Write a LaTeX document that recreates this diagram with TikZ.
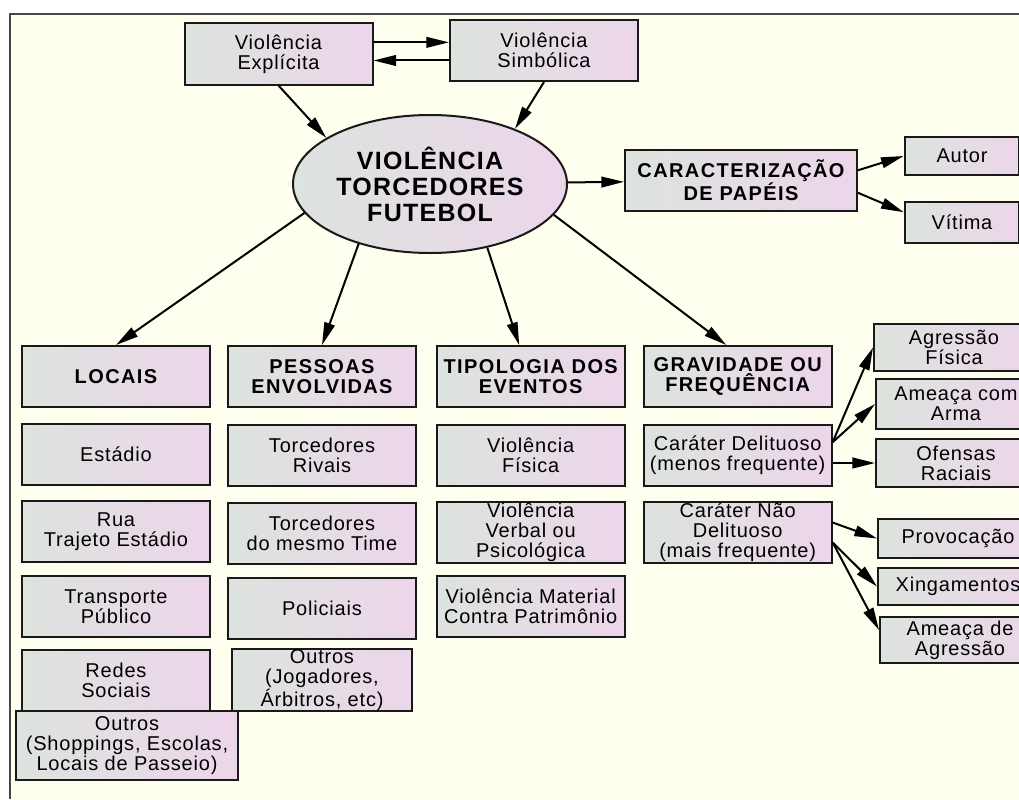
\documentclass[tikz,border=0pt]{standalone}
\usepackage{fontspec}
\setmainfont{Liberation Sans}
\newfontfamily\boxfont[LetterSpace=4]{Liberation Sans}
\newfontfamily\headfont[LetterSpace=7]{Liberation Sans}
\newfontfamily\centerfont[LetterSpace=5]{Liberation Sans}
\usepackage{tikz}
\usetikzlibrary{arrows.meta}
\usetikzlibrary{positioning}
\usetikzlibrary{shapes.geometric}

\definecolor{boxleft}{RGB}{221,227,222}
\definecolor{boxright}{RGB}{236,214,234}
\definecolor{paper}{RGB}{254,255,238}
\definecolor{framegray}{RGB}{70,70,70}

\begin{document}
\begin{tikzpicture}[x=0.75pt,y=-0.75pt,>={Triangle[length=17pt,width=8pt]},
  line width=1.5pt,
  box node/.style={rectangle,draw=black!90,left color=boxleft,right color=boxright,
    align=center,inner sep=0pt,minimum width=141pt,minimum height=45.75pt,
    font=\boxfont\fontsize{15}{15}\selectfont},
  head node/.style={box node,font=\headfont\bfseries\fontsize{15}{15.5}\selectfont},
  small node/.style={box node,minimum width=120pt},
  main node/.style={ellipse,draw=black!90,left color=boxleft,right color=boxright,
    align=center,inner sep=0pt,minimum width=205.5pt,minimum height=103.5pt,
    font=\centerfont\bfseries\fontsize{18.75}{19.5}\selectfont}]

  \useasboundingbox (0,0) rectangle (1019,799);
  \clip (0,0) rectangle (1019,799);
  \fill[white] (0,0) rectangle (1019,799);
  \fill[paper] (10,14) rectangle (1019,799);
  \draw[framegray,line width=1.3pt] (10,799) -- (10,14) -- (1019,14);

  % centre and top
  \node[main node] (vtf) at (430,184) {VIOLÊNCIA\\TORCEDORES\\FUTEBOL};
  \node[box node] (vexp) at (278.5,54) {Violência\\Explícita};
  \node[box node] (vsim) at (544,50.5) {Violência\\Simbólica};
  \node[head node,minimum width=174pt] (carac) at (741,180.5) {CARACTERIZAÇÃO\\DE PAPÉIS};
  \node[box node,minimum width=86pt,minimum height=28.5pt] (autor) at (962,156) {Autor};
  \node[box node,minimum width=86pt,minimum height=30.75pt] (vitima) at (962,222.5) {Vítima};

  % headers
  \node[head node] (locais) at (116,376.5) {LOCAIS};
  \node[head node] (pessoas) [right=12pt of locais] {PESSOAS\\ENVOLVIDAS};
  \node[head node] (tipol) [right=14pt of pessoas] {TIPOLOGIA DOS\\EVENTOS};
  \node[head node] (grav) [right=12.75pt of tipol] {GRAVIDADE OU\\FREQUÊNCIA};

  % locais
  \node[box node] (estadio) [below=11.25pt of locais] {Estádio};
  \node[box node] (rua) [below=10.5pt of estadio] {Rua\\Trajeto Estádio};
  \node[box node] (transp) [below=9pt of rua] {Transporte\\Público};
  \node[box node] (redes) [below=8.25pt of transp] {Redes\\Sociais};
  \node[box node,minimum width=166.5pt,minimum height=51.75pt] (outloc) at (127,745.5)
    {Outros\\(Shoppings, Escolas,\\Locais de Passeio)};

  % pessoas
  \node[box node] (torriv) [below=12pt of pessoas] {Torcedores\\Rivais};
  \node[box node] (tormes) [below=11.25pt of torriv] {Torcedores\\do mesmo Time};
  \node[box node] (polic) [below=9pt of tormes] {Policiais};
  \node[box node,minimum width=135pt,minimum height=46.5pt] (outpes) [below=6pt of polic]
    {Outros\\(Jogadores,\\Árbitros, etc)};

  % tipologia
  \node[box node] (vfis) [below=12pt of tipol] {Violência\\Física};
  \node[box node] (vverb) [below=10.5pt of vfis] {Violência\\Verbal ou\\Psicológica};
  \node[box node] (vmat) [below=8.25pt of vverb] {Violência Material\\Contra Patrimônio};

  % gravidade
  \node[box node] (cdel) [below=12pt of grav] {Caráter Delituoso\\(menos frequente)};
  \node[box node] (cndel) [below=10.5pt of cdel] {Caráter Não\\Delituoso\\(mais frequente)};

  \node[small node,minimum height=35.25pt,anchor=west] (agr) at (873,347.5) {Agressão\\Física};
  \node[small node,minimum height=37.5pt,anchor=west] (amc) at (875,404) {Ameaça com\\Arma};
  \node[small node,minimum height=36pt,anchor=west] (ofe) at (875,463) {Ofensas\\Raciais};
  \node[small node,minimum height=29.25pt,anchor=west] (pro) at (877,538.5) {Provocação};
  \node[small node,minimum height=27.75pt,anchor=west] (xin) at (877,586.5) {Xingamentos};
  \node[small node,minimum height=34.5pt,anchor=west] (amd) at (879,640) {Ameaça de\\Agressão};

  \path[->]
    (vexp.7) edge (vexp.7 -| vsim.west)
    (vsim.186) edge (vsim.186 -| vexp.east)
    (vexp.south) edge (vtf.156)
    (vsim.south) edge (vtf.33)
    (vtf) edge (carac)
    (carac.5) edge (autor.west)
    (carac.-6) edge (vitima.170)
    (vtf.193) edge (locais.north)
    (vtf.220) edge (pessoas.north)
    (vtf.312) edge (tipol.110)
    (vtf.346) edge (grav.110)
    (cdel.8) edge (agr.west)
    (cdel.8) edge (amc.west)
    (cdel.east |- ofe.west) edge (ofe.west)
    (cndel.6) edge (pro.west)
    (cndel.-6) edge (xin.west)
    (cndel.-6) edge (amd.173);
\end{tikzpicture}
\end{document}
